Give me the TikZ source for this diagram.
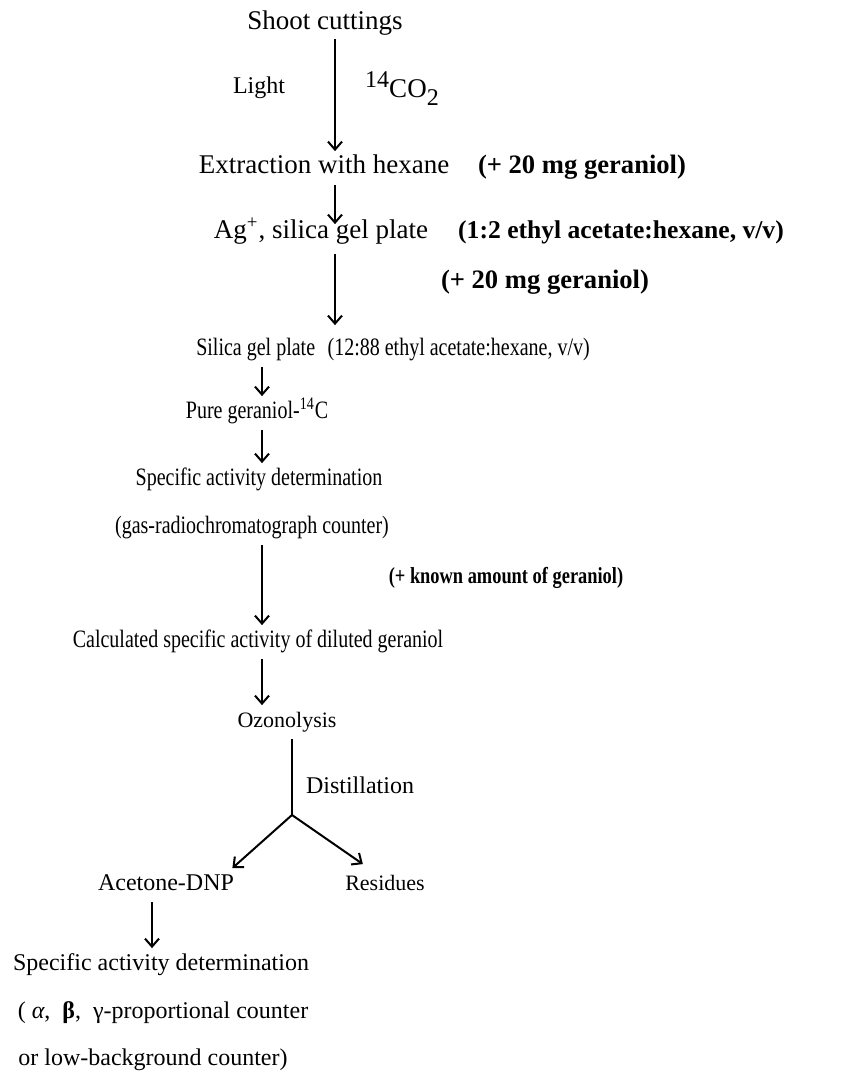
\documentclass[tikz,border=0pt]{standalone}
\usepackage{fontspec}
\setmainfont{Liberation Serif}
\newfontfamily\narrowfont[FakeStretch=0.8]{Liberation Serif}
\usetikzlibrary{arrows.meta}

\begin{document}
\begin{tikzpicture} [
          x=0.5pt, y=-0.5pt,
          stage/.style = {inner sep=0pt, text height=8pt, text depth=2.5pt,
                          font=\fontsize{12}{14}\selectfont},
          big stage/.style = {stage, font=\fontsize{13.5}{15}\selectfont},
          small stage/.style = {stage, font=\fontsize{11}{13}\selectfont},
          thin stage/.style = {stage, font=\fontsize{12.5}{14}\narrowfont},
          note/.style = {stage, font=\fontsize{13.3}{15}\selectfont\bfseries},
          flow/.style = {line width=1pt, -{Straight Barb[length=4pt,width=7pt,line width=1pt]}}
          ]
          \useasboundingbox (0,0) rectangle (851,1073);
          % column positions of the arrows
          \coordinate (colA) at (335,0);
          \coordinate (colB) at (262,0);
          \coordinate (fork) at (292,815);

          \node[big stage] (shoot) at (325,24) {Shoot cuttings};
          \node[stage] (light) at (259,88) {Light};
          \node[big stage] (co2) at (402,92) {{\fontsize{12}{14}\selectfont\raisebox{5pt}{14}}CO\raisebox{-4pt}{\fontsize{12}{14}\selectfont 2}};
          \node[big stage] (extr) at (324,168) {Extraction with hexane};
          \node[note] (ger1) at (582,168) {(+ 20 mg geraniol)};
          \node[big stage] (ag) at (321,233) {Ag\textsuperscript{+}, silica gel plate};
          \node[note, font=\fontsize{12.8}{15}\selectfont\bfseries] (solv1) at (621,233) {(1:2 ethyl acetate:hexane, v/v)};
          \node[note] (ger2) at (545,283) {(+ 20 mg geraniol)};
          \node[thin stage] (silica) at (393,350) {Silica gel plate\enspace(12:88 ethyl acetate:hexane, v/v)};
          \node[thin stage] (pure) at (257,413) {Pure geraniol-\textsuperscript{14}C};
          \node[thin stage] (spec1) at (259,480) {Specific activity determination};
          \node[thin stage] (gas) at (252,528) {(gas-radiochromatograph counter)};
          \node[stage, font=\fontsize{11.5}{14}\narrowfont\bfseries] (known) at (506,578) {(+ known amount of geraniol)};
          \node[thin stage] (calc) at (258,642) {Calculated specific activity of diluted geraniol};
          \node[small stage] (ozon) at (287,722) {Ozonolysis};
          \node[stage] (dist) at (360,788) {Distillation};
          \node[stage] (acet) at (166,885) {Acetone-DNP};
          \node[small stage] (resid) at (385,885) {Residues};
          \node[stage] (spec2) at (161,965) {Specific activity determination};
          \node[stage] (alpha) at (163,1013) {( \textit{α},\enspace\textbf{β},\enspace γ-proportional counter};
          \node[stage] (low) at (153,1060) {or low-background counter)};

          \draw[flow, shorten <=2pt, shorten >=3pt] (shoot.south -| colA) -- (extr.north -| colA);
          \draw[flow, shorten <=3pt, shorten >=-1pt] (extr.south -| colA) -- (ag.north -| colA);
          \draw[flow, shorten <=5pt, shorten >=7pt] (ag.south -| colA) -- (silica.north -| colA);
          \draw[flow, shorten <=3pt, shorten >=3pt] (silica.south -| colB) -- (pure.north -| colB);
          \draw[flow, shorten <=3pt, shorten >=3pt] (pure.south -| colB) -- (spec1.north -| colB);
          \draw[flow, shorten <=3pt, shorten >=3pt] (gas.south -| colB) -- (calc.north -| colB);
          \draw[flow, shorten <=3pt, shorten >=3pt] (calc.south -| colB) -- (ozon.north -| colB);
          \draw[line width=1pt, shorten <=3pt] (ozon.south -| fork) -- (fork);
          \draw[flow] (fork) -- ([xshift=-1pt,yshift=3pt]acet.north east);
          \draw[flow] (fork) -- ([xshift=9pt,yshift=5pt]resid.north west);
          \draw[flow, shorten <=3pt, shorten >=3pt] (acet.south -| 152,0) -- (spec2.north -| 152,0);
        \end{tikzpicture}
\end{document}
